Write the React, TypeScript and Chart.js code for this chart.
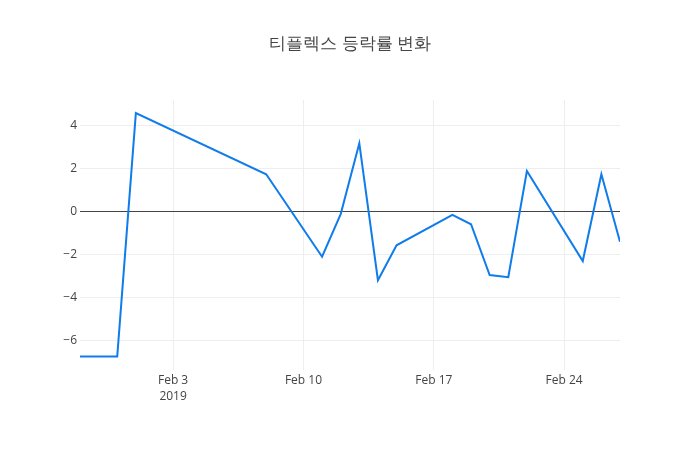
import { useEffect, useRef } from "react"
import { Chart, registerables } from "chart.js"

Chart.register(...registerables)

const title = "티플렉스 등락률 변화"

// 거래일과 등락률(%)
const dates = [
  "2019-01-29",
  "2019-01-31",
  "2019-02-01",
  "2019-02-08",
  "2019-02-11",
  "2019-02-12",
  "2019-02-13",
  "2019-02-14",
  "2019-02-15",
  "2019-02-18",
  "2019-02-19",
  "2019-02-20",
  "2019-02-21",
  "2019-02-22",
  "2019-02-25",
  "2019-02-26",
  "2019-02-27",
]
const changes = [
  -6.74, -6.74, 4.56, 1.72, -2.11, -0.13, 3.16, -3.2, -1.58, -0.17, -0.6, -2.96, -3.06, 1.87, -2.31,
  1.72, -1.41,
]

const xTickDates = ["2019-02-03", "2019-02-10", "2019-02-17", "2019-02-24"]
const xTickLabels = [["Feb 3", "2019"], ["Feb 10"], ["Feb 17"], ["Feb 24"]]
const yTicks = [-6, -4, -2, 0, 2, 4]

const toDay = (s: string) => {
  const [y, m, d] = s.split("-").map(Number)
  return Date.UTC(y, m - 1, d) / 86400000
}

const titlePlugin = {
  id: "plotTitle",
  afterDraw(chart: Chart) {
    const { ctx, width } = chart
    ctx.save()
    ctx.font = '17px "Open Sans", Verdana, Arial, sans-serif'
    ctx.fillStyle = "#444"
    ctx.textAlign = "center"
    ctx.textBaseline = "middle"
    ctx.fillText(title, width / 2, 44)
    ctx.restore()
  },
}

export default function App() {
  const chartRef = useRef<HTMLCanvasElement>(null)
  const chartInstance = useRef<Chart | null>(null)

  useEffect(() => {
    if (!chartRef.current) return
    document.body.style.margin = "0"

    if (chartInstance.current) {
      chartInstance.current.destroy()
    }

    const font = { family: '"Open Sans", Verdana, Arial, sans-serif', size: 12 }

    chartInstance.current = new Chart(chartRef.current, {
      type: "line",
      data: {
        datasets: [
          {
            data: dates.map((d, i) => ({ x: toDay(d), y: changes[i] })),
            borderColor: "rgb(16, 124, 235)",
            borderWidth: 2,
            pointRadius: 0,
            tension: 0,
            fill: false,
          },
        ],
      },
      options: {
        animation: false,
        responsive: true,
        maintainAspectRatio: false,
        layout: { padding: { top: 100, right: 80, left: 0, bottom: 0 } },
        plugins: {
          legend: { display: false },
          title: { display: false },
          tooltip: { enabled: false },
        },
        scales: {
          x: {
            type: "linear",
            min: toDay(dates[0]),
            max: toDay(dates[dates.length - 1]),
            afterBuildTicks: (scale) => {
              scale.ticks = xTickDates.map((d) => ({ value: toDay(d) }))
            },
            afterFit: (scale) => {
              scale.height = 80
            },
            ticks: {
              autoSkip: false,
              maxRotation: 0,
              padding: 2,
              color: "#444",
              font: { ...font, lineHeight: 1.35 },
              callback: (_v, i) => xTickLabels[i],
            },
            grid: { color: "#eee", drawTicks: false },
            border: { display: false },
          },
          y: {
            min: -7.37,
            max: 5.17,
            afterBuildTicks: (scale) => {
              scale.ticks = yTicks.map((v) => ({ value: v }))
            },
            afterFit: (scale) => {
              scale.width = 80
            },
            ticks: {
              padding: 3,
              color: "#444",
              font,
              callback: (v) => String(v).replace("-", "\u2212"),
            },
            grid: {
              drawTicks: false,
              color: (c) => (c.tick && c.tick.value === 0 ? "#444" : "#eee"),
            },
            border: { display: false },
          },
        },
      },
      plugins: [titlePlugin],
    })

    return () => {
      if (chartInstance.current) {
        chartInstance.current.destroy()
        chartInstance.current = null
      }
    }
  }, [])

  return (
    <div style={{ position: "absolute", left: 0, top: 0, width: 700, height: 450 }}>
      <canvas ref={chartRef} />
    </div>
  )
}
